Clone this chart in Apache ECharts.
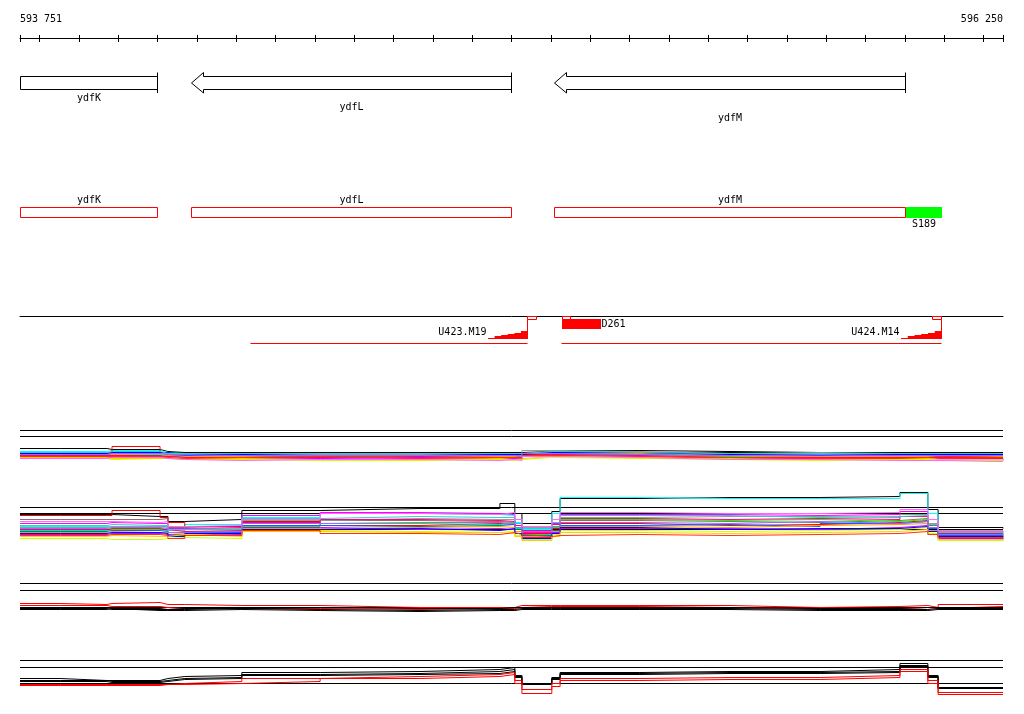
<!DOCTYPE html>
<html><head><meta charset="utf-8">
<script src="https://cdn.jsdelivr.net/npm/echarts@6/dist/echarts.min.js"></script>
<style>html,body{margin:0;padding:0;background:#fff}#c{width:1024px;height:714px}</style>
</head><body><div id="c"></div>
<script>
// ---------------- data ----------------
const viewStart = 593751, viewEnd = 596250;
const rulerTicks = [593751,593800,593900,594000,594100,594200,594300,594400,594500,594600,594700,594800,594900,
  595000,595100,595200,595300,595400,595500,595600,595700,595800,595900,596000,596100,596200,596250];
const rulerLabelPos = [593751, 596250];
const rulerLabelText = ['593 751', '596 250'];

const geneNames = ['ydfK', 'ydfL', 'ydfM'];
const geneStart = [593700, 594186, 595109];
const geneEnd = [594099, 594999, 596001];
const geneStrand = ['-', '-', '-'];

const siteNames = ['S189'];
const siteStart = [596001];
const siteEnd = [596094];

const unitNames = ['U423.M19', 'U424.M14'];
const unitStart = [594336, 595126];
const unitEnd = [595041, 596092];
const unitRampStart = [594941, 595991];

const downNames = ['D261'];
const downStart = [595129];
const downEnd = [595228];

const markerStart = [595041, 595128, 596070];
const markerEnd = [595062, 595150, 596092];

// probe positions shared by the profile tracks
const probePos = [593751,593853,593972,593985,594107,594127,594170,594315,594514,594768,594971,
  595009,595027,595103,595124,595327,595556,595785,595988,596059,596085,596250];

const sampleColors = ['#000000','#00ffff','#ff0000','#996666','#ff00ff','#999999','#00ff00','#0066ff','#ff9900',
  '#cc00ff','#ccff00','#ff0080','#0000ff','#ffcc00','#33cccc','#ff3300','#9966ff','#ff66ff'];

// panel 1 (upper profile group, condition A)
const panel1Values = [
  [4,4,3,3,1,0,0,0,0,0,0,0,1,2,2,1,0,0,0,0,0,0],
  [1,1,2,2,0,-1,-1,-2,-3,-3,-2,-2,0,1,1,-2,-3,-2,-2,-3,-3,-3],
  [-1,-1,-1,6,-1,-2,-1,-4,-3,-5,-4,-4,-1,0,-1,-3,-4,-3,-5,-4,-4,-4],
  [0,0,0,0,-1,-2,-2,-1,-2,-2,-1,-1,1,1,0,-1,-1,-2,-1,-1,-1,-1],
  [-4,-4,-3,-4,-3,-3,-5,-5,-6,-5,-4,-5,-2,-1,-2,-5,-4,-6,-5,-6,-6,-6],
  [-2,-2,-2,-1,-1,-3,-3,-2,-2,-1,-2,-2,2,2,1,-1,0,-1,-2,-2,-2,-2],
  [-3,-3,-4,-3,-4,-4,-4,-3,-5,-6,-5,-4,-2,-2,-3,-4,-5,-5,-4,-5,-5,-5],
  [-2,-2,-3,-3,-2,-3,-4,-4,-4,-4,-3,-3,-1,-1,-2,-3,-3,-4,-3,-3,-3,-3],
  [-1,-1,-2,-2,-3,-4,-4,-3,-4,-4,-4,-3,-1,0,-1,-3,-4,-4,-4,-3,-4,-4],
  [-5,-5,-5,-5,-4,-5,-6,-6,-5,-6,-6,-6,-3,-3,-4,-6,-6,-5,-6,-5,-6,-8],
  [-6,-6,-7,-6,-6,-7,-7,-8,-8,-7,-8,-7,-5,-5,-6,-7,-8,-7,-7,-8,-8,-8],
  [-3,-3,-3,-4,-4,-5,-5,-5,-4,-5,-5,-5,-2,-2,-3,-5,-5,-5,-5,-5,-5,-5],
  [-1,-1,0,0,0,-2,-2,-1,-1,-2,-2,-2,0,0,0,-2,-2,-2,-2,-2,-2,-2],
  [-5,-5,-6,-6,-5,-6,-6,-7,-7,-6,-7,-6,-4,-4,-5,-6,-7,-6,-6,-7,-7,-7],
  [0,0,1,1,-1,-1,-1,-1,-1,-1,-1,-1,1,1,0,-1,-1,-1,-1,-1,-1,-1],
  [-4,-4,-4,-4,-5,-6,-5,-4,-6,-5,-5,-6,-3,-3,-4,-5,-6,-6,-5,-4,-5,-5],
  [-2,-2,-1,-1,-2,-2,-3,-3,-3,-3,-3,-4,-1,-1,-2,-3,-2,-3,-3,-3,-3,-3],
  [-6,-6,-5,-5,-6,-7,-8,-7,-7,-8,-7,-8,-4,-4,-5,-7,-7,-8,-8,-8,-9,-9]
];

// panel 2 (upper profile group, condition B)
const panel2Values = [
  [15,15,15,13,13,8,10,19,21,21,26,16,6,18,31,32,32,33,37,20,2,1],
  [3,3,3,3,2,-1,5,12,16,15,14,7,0,16,32,31,31,31,36,16,-3,-4],
  [14,14,14,19,12,7,3,8,4,6,5,0,-4,1,6,4,5,7,9,4,-1,-1],
  [10,10,10,10,11,2,0,6,9,8,7,2,-2,3,9,8,7,9,11,4,-2,-3],
  [6,6,7,6,6,1,2,14,17,16,15,6,-3,6,15,15,14,15,18,6,-5,-6],
  [2,2,3,3,3,-3,0,9,11,10,10,6,2,7,12,13,13,12,15,6,-2,-2],
  [-1,-1,0,0,-1,-5,-2,3,6,5,7,1,-5,2,10,9,10,8,10,2,-7,-8],
  [-2,-2,-1,-1,-2,-6,-3,4,3,4,5,0,-6,-1,4,5,3,6,8,1,-6,-7],
  [-3,-3,-2,-3,-3,-4,-6,1,2,3,2,-2,-7,-2,3,2,4,5,6,-1,-8,-9],
  [-5,-5,-4,-4,-5,-6,-5,2,0,1,0,-4,-8,-3,1,1,0,2,4,-2,-9,-10],
  [-9,-9,-10,-10,-9,-8,-9,-1,-2,-1,-2,-6,-10,-5,-1,-2,-1,0,2,-4,-11,-12],
  [0,0,1,1,0,-2,-1,7,10,9,8,4,-1,5,11,10,11,10,13,5,-4,-5],
  [-4,-4,-3,-3,-4,-7,-4,0,1,-1,1,-4,-9,-4,2,0,1,1,3,-2,-7,-8],
  [-7,-7,-6,-7,-7,-5,-7,-2,-3,-3,-4,-7,-11,-7,-3,-4,-3,-2,0,-5,-10,-11],
  [4,4,5,4,4,0,1,11,13,12,12,6,1,7,14,14,12,13,14,5,-3,-4],
  [-6,-6,-5,-5,-6,-9,-6,-1,-4,-5,-3,-5,-7,-6,-5,-6,-5,-4,-2,-5,-8,-9],
  [1,1,2,2,1,-3,-2,6,7,7,6,2,-2,3,7,6,8,6,8,2,-5,-6],
  [8,8,8,7,8,3,4,10,16,15,17,10,3,10,17,16,16,17,20,10,-1,-2]
];

// panel 3 / 4 (lower profile group)
const panel3Colors = ['#ff0000','#ff0000','#000000','#000000','#000000'];
const panel3Values = [
  [4,3,4,5,3,3,2,2,0,0,0,2,2,2,2,2,0,1,2,0,3,3],
  [2,2,1,1,0,-1,-1,-1,-2,-1,-1,0,1,1,1,0,-1,-1,0,-1,1,1],
  [0,0,-1,-1,-2,-2,-1,0,-1,-1,0,0,0,0,0,0,-1,-1,0,0,0,0],
  [-1,-1,-2,-2,-2,-1,-1,-2,-3,-2,-2,-1,-1,-1,-1,-1,-2,-2,-2,-1,-1,-1],
  [-2,-2,-1,-3,-3,-3,-2,-3,-4,-3,-3,-2,-2,-2,-2,-2,-3,-3,-3,-2,-2,-2]
];
const panel4Colors = ['#000000','#000000','#000000','#ff0000','#ff0000'];
const panel4Values = [
  [5,3,3,3,5,7,8,11,12,14,16,8,0,6,11,12,12,14,20,8,-4,-4],
  [3,3,2,2,3,5,6,9,10,12,14,7,-1,5,10,11,11,12,18,7,-4,-4],
  [2,2,1,1,2,4,5,8,9,10,12,6,-1,4,9,10,10,11,17,6,-5,-5],
  [-1,-1,-1,-1,-1,0,2,5,7,9,11,3,-6,0,5,6,6,8,14,3,-9,-9],
  [-2,-2,-2,-2,-1,-1,0,2,5,7,9,0,-10,-3,3,4,4,6,12,0,-11,-11]
];
const guideValues = [[22,16],[22,16],[24,17],[23,16]];

// ---------------- layout / style ----------------
const FONT = '10px "DejaVu Sans Mono", monospace';
const L = 20, R = 21;
const gridDefs = [
  {top:38, height:10, min:0, max:1},
  {top:70, height:30, min:0, max:1},
  {top:195, height:30, min:0, max:1},
  {top:316, height:30, min:0, max:1},
  {top:427.5, height:37, min:-12, max:25},
  {top:489.5, height:55, min:-15, max:40},
  {top:581.5, height:34, min:-8, max:26},
  {top:658.5, height:39, min:-14, max:25}
];
const snap = v => Math.round(v) + 0.5;
const clampX = (api, v) => api.coord([Math.min(Math.max(v, viewStart), viewEnd), 0])[0];

const grid = gridDefs.map(g => ({left:L, right:R, top:g.top, height:g.height}));
const xAxis = gridDefs.map((g, i) => ({
  type:'value', gridIndex:i, min:viewStart, max:viewEnd, show:(i === 0 || i === 3), position:'top',
  axisLine:{show:true, onZero:false, lineStyle:{color:'#000', width:1}},
  axisTick:{show:false}, axisLabel:{show:false}, splitLine:{show:false}
}));
const yAxis = gridDefs.map((g, i) => ({type:'value', gridIndex:i, min:g.min, max:g.max, show:false}));

const series = [];
const base = {silent:true, animation:false};

// ruler ticks
series.push(Object.assign({
  type:'custom', xAxisIndex:0, yAxisIndex:0, encode:{x:0, y:1},
  data: rulerTicks.map(v => [v, 0]),
  renderItem(params, api) {
    const cs = params.coordSys;
    const x = snap(api.coord([api.value(0), 0])[0]);
    return {type:'line', shape:{x1:x, y1:cs.y - 3, x2:x, y2:cs.y + 4}, style:{stroke:'#000', lineWidth:1}};
  }
}, base));
// ruler labels
series.push(Object.assign({
  type:'custom', xAxisIndex:0, yAxisIndex:0, encode:{x:0, y:1},
  data: rulerLabelPos.map(v => [v, 0]),
  renderItem(params, api) {
    const cs = params.coordSys;
    const x = api.coord([api.value(0), 0])[0];
    return {type:'text', style:{x:x, y:cs.y - 19, text:rulerLabelText[params.dataIndex], font:FONT, fill:'#000',
      align: params.dataIndex === 0 ? 'left' : 'right', verticalAlign:'middle'}};
  }
}, base));

// gene arrows (track 1)
const labelDy = [8.5, 17.5, 29];
series.push(Object.assign({
  type:'custom', xAxisIndex:1, yAxisIndex:1, encode:{x:[0,1], y:2},
  data: geneNames.map((n, i) => [geneStart[i], geneEnd[i], 0]),
  renderItem(params, api) {
    const i = params.dataIndex, cs = params.coordSys, top = cs.y;
    const s = api.value(0), e = api.value(1);
    const x0 = snap(clampX(api, s)), x1 = snap(clampX(api, e));
    const bt = top + 6.5, bb = top + 19.5, ht = top + 2.5, hb = top + 23, mid = (bt + bb) / 2;
    let pts;
    if (s < viewStart) pts = [[x0, bt], [x1, bt], [x1, bb], [x0, bb]];
    else { const hx = x0 + 12; pts = [[x0, mid], [hx, ht], [hx, bt], [x1, bt], [x1, bb], [hx, bb], [hx, hb]]; }
    return {type:'group', children:[
      {type:'polygon', shape:{points:pts}, style:{fill:'#fff', stroke:'#000', lineWidth:1}},
      {type:'line', shape:{x1:x1, y1:ht, x2:x1, y2:hb}, style:{stroke:'#000', lineWidth:1}},
      {type:'text', style:{x:(x0 + x1) / 2, y:bb + labelDy[i], text:geneNames[i], font:FONT, fill:'#000', align:'center', verticalAlign:'middle'}}
    ]};
  }
}, base));

// gene boxes (track 2)
series.push(Object.assign({
  type:'custom', xAxisIndex:2, yAxisIndex:2, encode:{x:[0,1], y:2},
  data: geneNames.map((n, i) => [geneStart[i], geneEnd[i], 0]),
  renderItem(params, api) {
    const i = params.dataIndex, top = params.coordSys.y;
    const x0 = snap(clampX(api, api.value(0))), x1 = snap(clampX(api, api.value(1)));
    return {type:'group', children:[
      {type:'rect', shape:{x:x0, y:top + 12.5, width:x1 - x0, height:10}, style:{fill:'#fff', stroke:'#ff0000', lineWidth:1}},
      {type:'text', style:{x:(x0 + x1) / 2, y:top + 5.5, text:geneNames[i], font:FONT, fill:'#000', align:'center', verticalAlign:'middle'}}
    ]};
  }
}, base));
// sites (track 2)
series.push(Object.assign({
  type:'custom', xAxisIndex:2, yAxisIndex:2, encode:{x:[0,1], y:2},
  data: siteNames.map((n, i) => [siteStart[i], siteEnd[i], 0]),
  renderItem(params, api) {
    const i = params.dataIndex, top = params.coordSys.y;
    const x0 = Math.round(clampX(api, api.value(0))) + 1, x1 = Math.round(clampX(api, api.value(1)));
    return {type:'group', children:[
      {type:'rect', shape:{x:x0, y:top + 12, width:x1 - x0, height:11}, style:{fill:'#00ff00'}},
      {type:'text', style:{x:(x0 + x1) / 2, y:top + 29.5, text:siteNames[i], font:FONT, fill:'#000', align:'center', verticalAlign:'middle'}}
    ]};
  }
}, base));

// transcription units (track 3)
series.push(Object.assign({
  type:'custom', xAxisIndex:3, yAxisIndex:3, encode:{x:[0,1,2], y:3},
  data: unitNames.map((n, i) => [unitStart[i], unitEnd[i], unitRampStart[i], 0]),
  renderItem(params, api) {
    const i = params.dataIndex, top = params.coordSys.y;
    const xs = snap(clampX(api, api.value(0))), xe = snap(clampX(api, api.value(1)));
    const xr = Math.round(clampX(api, api.value(2)));
    const yb = top + 23, yt = top + 15.5, n = 6;
    const pts = [[xr, yb]];
    for (let k = 0; k < n; k++) {
      const xa = xr + (xe - xr) * k / n, xb = xr + (xe - xr) * (k + 1) / n;
      const h = Math.round((yb - yt) * (k + 1) / n);
      pts.push([xa, yb - h], [xb, yb - h]);
    }
    pts.push([xe, yb]);
    return {type:'group', children:[
      {type:'line', shape:{x1:xs, y1:top + 27.5, x2:xe, y2:top + 27.5}, style:{stroke:'#ff0000', lineWidth:1}},
      {type:'polygon', shape:{points:pts}, style:{fill:'#ff0000'}},
      {type:'line', shape:{x1:xe, y1:top + 3, x2:xe, y2:yb}, style:{stroke:'#ff0000', lineWidth:1}},
      {type:'text', style:{x:xr - 1.5, y:top + 16, text:unitNames[i], font:FONT, fill:'#000', align:'right', verticalAlign:'middle'}}
    ]};
  }
}, base));
// downstream features (track 3)
series.push(Object.assign({
  type:'custom', xAxisIndex:3, yAxisIndex:3, encode:{x:[0,1], y:2},
  data: downNames.map((n, i) => [downStart[i], downEnd[i], 0]),
  renderItem(params, api) {
    const i = params.dataIndex, top = params.coordSys.y;
    const x0 = Math.round(clampX(api, api.value(0))), x1 = Math.round(clampX(api, api.value(1)));
    return {type:'group', children:[
      {type:'rect', shape:{x:x0, y:top + 3, width:x1 - x0, height:10}, style:{fill:'#ff0000'}},
      {type:'text', style:{x:x1 + 0.5, y:top + 8, text:downNames[i], font:FONT, fill:'#000', align:'left', verticalAlign:'middle'}}
    ]};
  }
}, base));
// small markers (track 3)
series.push(Object.assign({
  type:'custom', xAxisIndex:3, yAxisIndex:3, encode:{x:[0,1], y:2},
  data: markerStart.map((s, i) => [s, markerEnd[i], 0]),
  renderItem(params, api) {
    const top = params.coordSys.y;
    const x0 = snap(clampX(api, api.value(0))), x1 = snap(clampX(api, api.value(1)));
    return {type:'rect', shape:{x:x0, y:top + 0.5, width:x1 - x0, height:3}, style:{fill:'#fff', stroke:'#ff0000', lineWidth:1}};
  }
}, base));

// profile panels
function hline(gi, v, z) {
  return Object.assign({type:'line', xAxisIndex:gi, yAxisIndex:gi, data:[[viewStart, v], [viewEnd, v]],
    symbol:'none', lineStyle:{color:'#000', width:1}, z:z, emphasis:{disabled:true}}, base);
}
function profile(gi, vals, color) {
  return Object.assign({type:'line', xAxisIndex:gi, yAxisIndex:gi, step:'end',
    data: probePos.map((p, j) => [p, vals[j]]), symbol:'none',
    lineStyle:{color:color, width:1}, z:2, emphasis:{disabled:true}}, base);
}
const panels = [
  {gi:4, values:panel1Values, colors:sampleColors},
  {gi:5, values:panel2Values, colors:sampleColors},
  {gi:6, values:panel3Values, colors:panel3Colors},
  {gi:7, values:panel4Values, colors:panel4Colors}
];
panels.forEach((p, k) => {
  guideValues[k].forEach(v => series.push(hline(p.gi, v, 1)));
  series.push(hline(p.gi, 0, 1));
  p.values.forEach((vals, s) => series.push(profile(p.gi, vals, p.colors[s])));
});

const chart = echarts.init(document.getElementById('c'), null, {renderer:'canvas', width:1024, height:714});
chart.setOption({backgroundColor:'#ffffff', animation:false, grid, xAxis, yAxis, series});
</script>
</body></html>
